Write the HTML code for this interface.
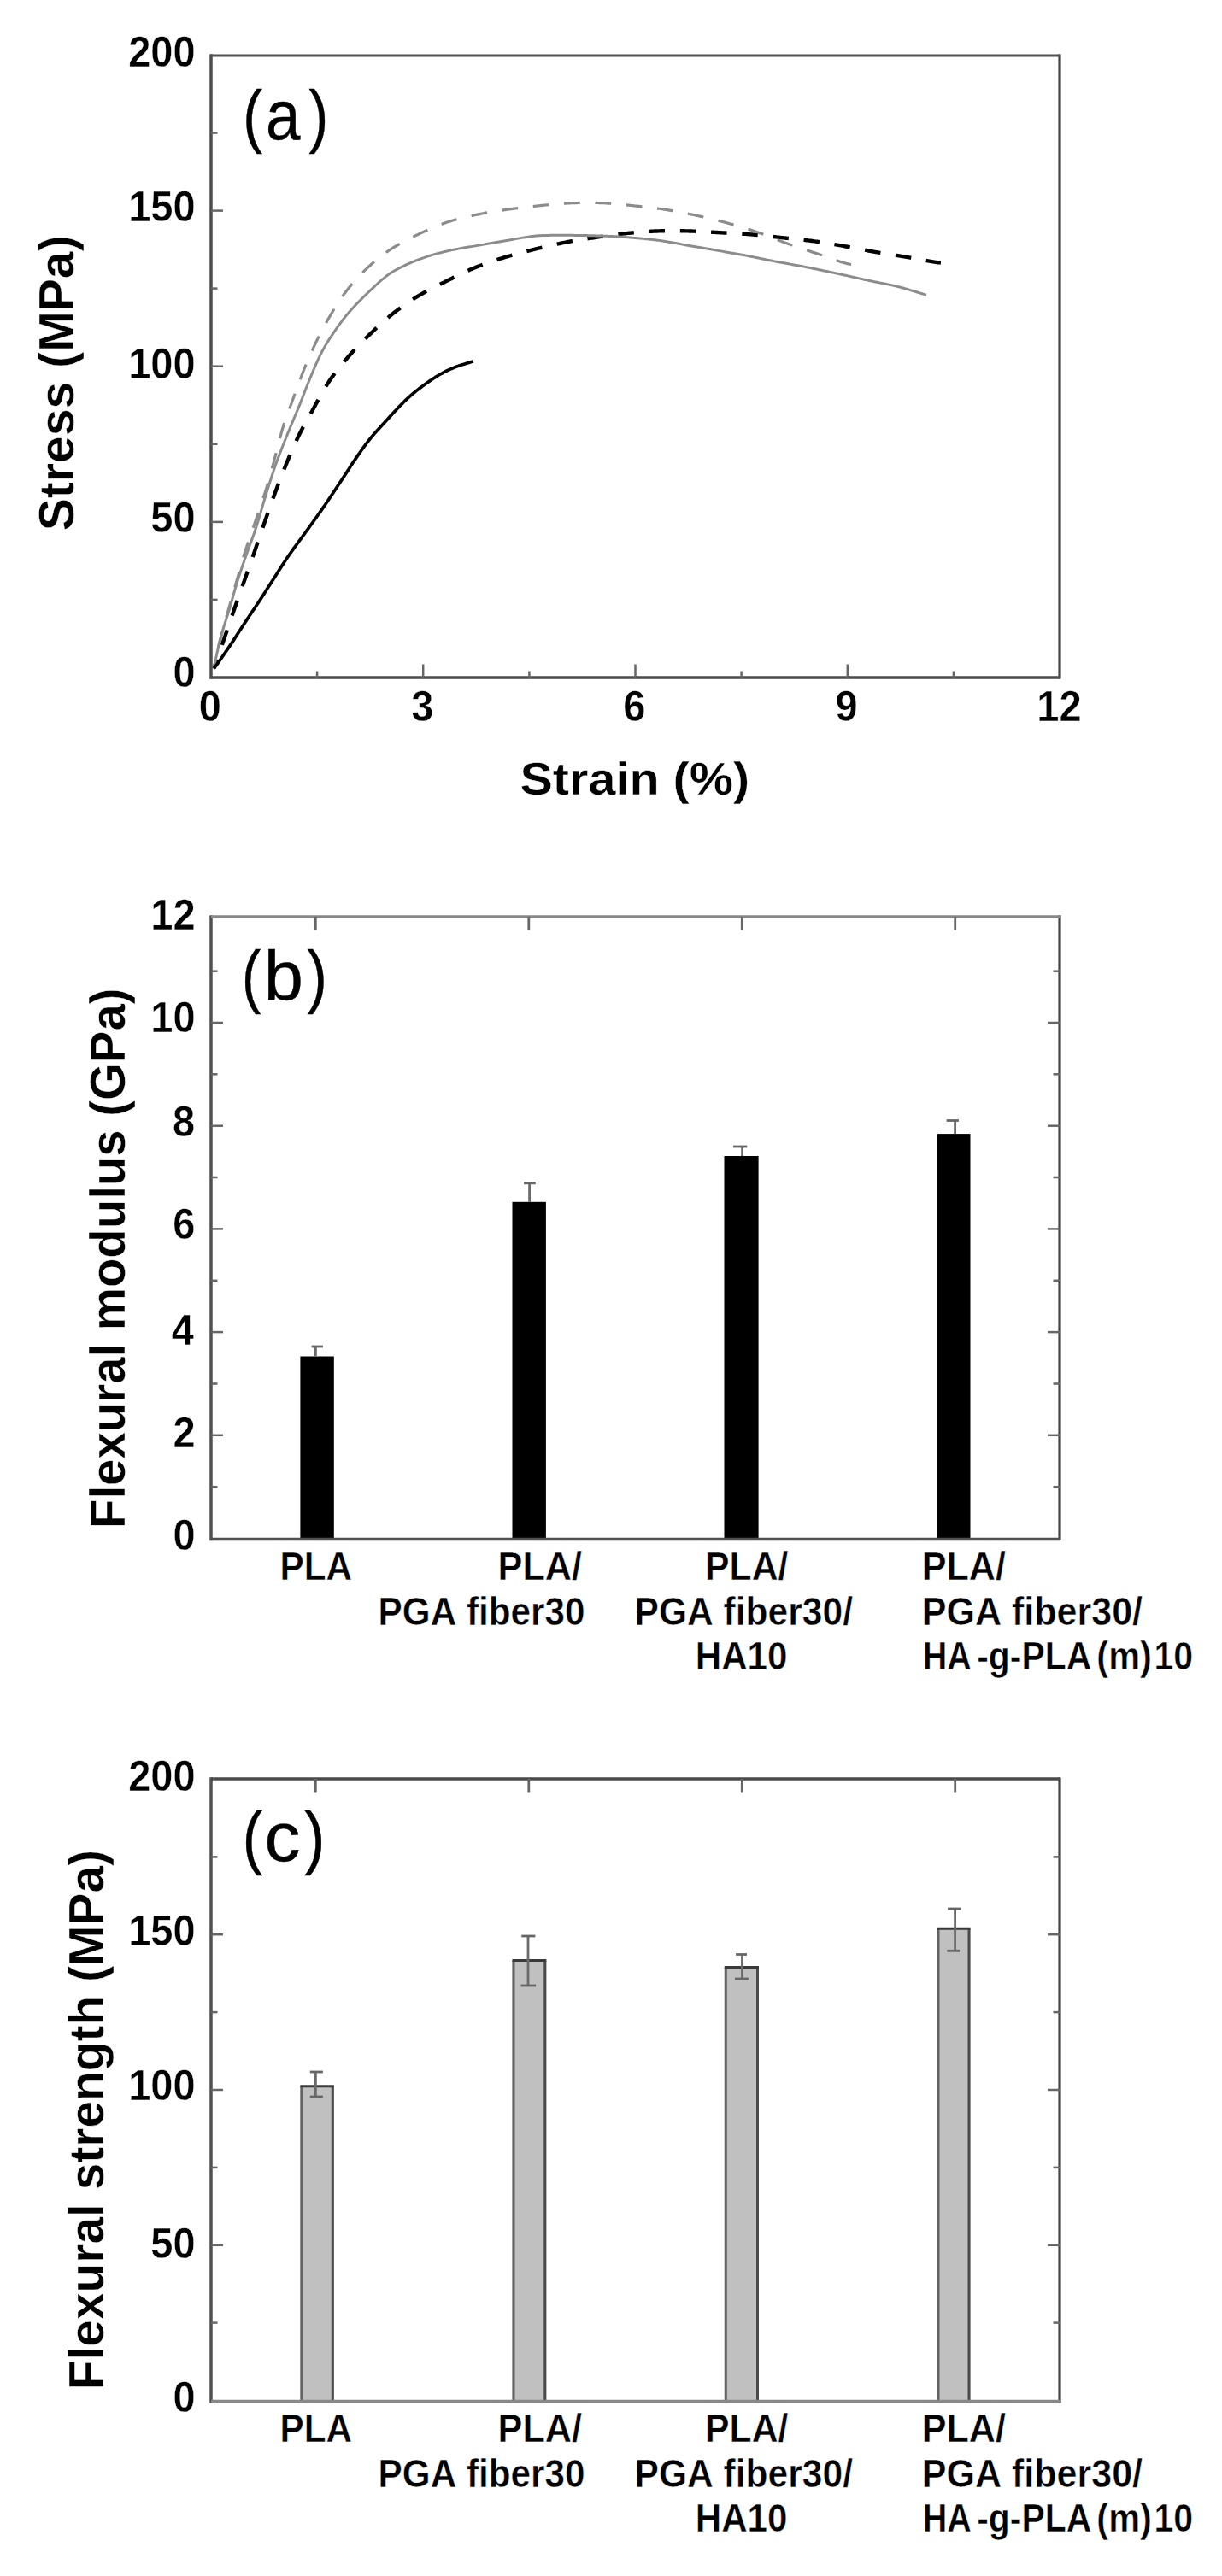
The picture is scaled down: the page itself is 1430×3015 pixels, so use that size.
<!DOCTYPE html>
<html><head><meta charset="utf-8"><title>Mechanical properties figure</title>
<style>
html,body{margin:0;padding:0;background:#fff;}
body{width:1430px;height:3015px;overflow:hidden;}
svg{display:block;}
svg text{font-family:"Liberation Sans",sans-serif;fill:#000;font-kerning:none;}
.e1{stroke:#fff;stroke-width:0.4px;}
.e2{stroke:#fff;stroke-width:0.5px;}
.e3{stroke:#000;stroke-width:0.45px;}
</style></head><body>
<svg width="1430" height="3015" viewBox="0 0 1430 3015">
<rect x="0" y="0" width="1430" height="3015" fill="#fff"/>
<path d="M250.30,782.40 L250.79,780.98 L251.28,779.56 L251.77,778.15 L252.26,776.73 L252.75,775.31 L253.24,773.89 L253.73,772.48 L254.22,771.06 L254.71,769.64 L255.20,768.22 L255.69,766.80 L256.18,765.39 L256.67,763.97 L257.16,762.55 L257.65,761.13 L258.14,759.71 L258.62,758.30 L259.11,756.88 L259.60,755.46 L260.09,754.04 L260.58,752.62 L261.07,751.20 L261.56,749.79 L262.04,748.37 L262.53,746.95 L263.02,745.53 L263.50,744.11 L263.99,742.69 L264.48,741.27 L264.96,739.85 L265.45,738.43 L265.93,737.01 L266.42,735.59 L266.90,734.18 L267.39,732.76 L267.87,731.34 L268.36,729.92 L268.84,728.50 L269.33,727.08 L269.81,725.66 L270.30,724.24 L270.79,722.82 L271.27,721.40 L271.76,719.98 L272.25,718.57 L272.74,717.15 L273.23,715.73 L273.72,714.31 L274.21,712.90 L274.71,711.48 L275.20,710.06 L275.70,708.65 L276.19,707.23 L276.69,705.82 L277.19,704.40 L277.69,702.99 L278.19,701.57 L278.69,700.16 L279.19,698.74 L279.69,697.33 L280.19,695.92 L280.69,694.50 L281.19,693.09 L281.69,691.67 L282.19,690.26 L282.69,688.85 L283.19,687.43 L283.69,686.02 L284.19,684.60 L284.69,683.19 L285.19,681.77 L285.69,680.36 L286.19,678.94 L286.68,677.53 L287.18,676.11 L287.68,674.70 L288.18,673.28 L288.67,671.87 L289.17,670.45 L289.66,669.04 L290.16,667.62 L290.66,666.20 L291.15,664.79 L291.65,663.37 L292.14,661.96 L292.64,660.54 L293.13,659.12 L293.63,657.71 L294.12,656.29 L294.61,654.87 L295.11,653.46 L295.60,652.04 L296.09,650.62 L296.58,649.21 L297.07,647.79 L297.56,646.37 L298.05,644.95 L298.54,643.54 L299.03,642.12 L299.52,640.70 L300.01,639.28 L300.50,637.86 L300.99,636.45 L301.47,635.03 L301.96,633.61 L302.45,632.19 L302.94,630.77 L303.43,629.35 L303.92,627.94 L304.40,626.52 L304.89,625.10 L305.38,623.68 L305.87,622.26 L306.36,620.85 L306.85,619.43 L307.34,618.01 L307.84,616.59 L308.33,615.18 L308.82,613.76 L309.31,612.34 L309.80,610.92 L310.30,609.51 L310.79,608.09 L311.28,606.67 L311.77,605.26 L312.27,603.84 L312.76,602.42 L313.25,601.01 L313.74,599.59 L314.24,598.17 L314.73,596.76 L315.23,595.34 L315.72,593.93 L316.22,592.51 L316.72,591.10 L317.22,589.68 L317.72,588.27 L318.23,586.86 L318.74,585.44 L319.25,584.03 L319.76,582.62 L320.27,581.21 L320.79,579.81 L321.31,578.40 L321.83,576.99 L322.35,575.59 L322.87,574.18 L323.40,572.77 L323.93,571.37 L324.45,569.97 L324.98,568.56 L325.51,567.16 L326.04,565.76 L326.58,564.35 L327.11,562.95 L327.65,561.55 L328.19,560.15 L328.73,558.75 L329.27,557.35 L329.82,555.96 L330.36,554.56 L330.91,553.16 L331.47,551.77 L332.02,550.38 L332.58,548.98 L333.14,547.59 L333.70,546.20 L334.27,544.81 L334.84,543.42 L335.41,542.04 L335.98,540.65 L336.56,539.27 L337.13,537.88 L337.71,536.50 L338.29,535.11 L338.88,533.73 L339.46,532.35 L340.05,530.97 L340.64,529.59 L341.24,528.22 L341.83,526.84 L342.43,525.47 L343.04,524.09 L343.64,522.72 L344.25,521.35 L344.87,519.98 L345.49,518.62 L346.11,517.25 L346.74,515.89 L347.37,514.53 L348.01,513.17 L348.66,511.82 L349.31,510.47 L349.97,509.12 L350.63,507.78 L351.31,506.44 L351.99,505.10 L352.68,503.77 L353.38,502.44 L354.08,501.12 L354.79,499.80 L355.51,498.48 L356.24,497.17 L356.96,495.85 L357.70,494.55 L358.43,493.24 L359.17,491.93 L359.91,490.63 L360.65,489.32 L361.39,488.02 L362.12,486.71 L362.86,485.40 L363.59,484.09 L364.32,482.78 L365.05,481.47 L365.78,480.16 L366.50,478.84 L367.22,477.53 L367.93,476.21 L368.65,474.89 L369.36,473.57 L370.07,472.25 L370.79,470.93 L371.50,469.61 L372.22,468.29 L372.93,466.98 L373.65,465.66 L374.38,464.35 L375.10,463.03 L375.83,461.72 L376.57,460.42 L377.31,459.11 L378.06,457.81 L378.81,456.51 L379.57,455.22 L380.34,453.93 L381.12,452.65 L381.91,451.38 L382.70,450.11 L383.51,448.84 L384.33,447.58 L385.16,446.33 L386.00,445.09 L386.84,443.85 L387.70,442.62 L388.57,441.40 L389.44,440.18 L390.32,438.96 L391.21,437.76 L392.11,436.55 L393.01,435.36 L393.92,434.17 L394.84,432.98 L395.77,431.80 L396.70,430.62 L397.63,429.45 L398.57,428.29 L399.52,427.12 L400.47,425.96 L401.43,424.81 L402.39,423.66 L403.36,422.51 L404.32,421.36 L405.30,420.22 L406.27,419.08 L407.25,417.94 L408.24,416.81 L409.23,415.68 L410.22,414.56 L411.22,413.44 L412.22,412.33 L413.23,411.22 L414.25,410.11 L415.27,409.01 L416.29,407.92 L417.32,406.83 L418.35,405.74 L419.39,404.66 L420.43,403.58 L421.48,402.50 L422.53,401.43 L423.58,400.36 L424.63,399.29 L425.69,398.23 L426.76,397.18 L427.82,396.12 L428.89,395.07 L429.96,394.02 L431.04,392.97 L432.11,391.93 L433.19,390.88 L434.27,389.84 L435.36,388.81 L436.44,387.77 L437.53,386.74 L438.62,385.71 L439.71,384.68 L440.81,383.65 L441.91,382.63 L443.01,381.61 L444.11,380.60 L445.22,379.59 L446.33,378.58 L447.45,377.58 L448.57,376.58 L449.69,375.58 L450.82,374.60 L451.95,373.61 L453.09,372.63 L454.23,371.66 L455.37,370.69 L456.53,369.73 L457.68,368.78 L458.85,367.83 L460.01,366.89 L461.19,365.96 L462.37,365.03 L463.55,364.11 L464.74,363.20 L465.94,362.29 L467.14,361.39 L468.34,360.49 L469.55,359.61 L470.76,358.73 L471.98,357.85 L473.21,356.99 L474.44,356.13 L475.67,355.27 L476.91,354.43 L478.15,353.59 L479.40,352.76 L480.65,351.93 L481.91,351.11 L483.17,350.30 L484.43,349.49 L485.70,348.69 L486.98,347.90 L488.25,347.12 L489.54,346.34 L490.82,345.57 L492.11,344.80 L493.41,344.05 L494.71,343.31 L496.02,342.57 L497.33,341.84 L498.64,341.12 L499.96,340.40 L501.29,339.70 L502.61,338.99 L503.94,338.30 L505.27,337.61 L506.60,336.92 L507.94,336.24 L509.28,335.56 L510.62,334.88 L511.96,334.21 L513.30,333.53 L514.64,332.86 L515.98,332.19 L517.32,331.53 L518.67,330.86 L520.01,330.19 L521.35,329.52 L522.69,328.85 L524.04,328.18 L525.38,327.51 L526.72,326.84 L528.06,326.17 L529.40,325.50 L530.75,324.83 L532.09,324.16 L533.43,323.50 L534.78,322.83 L536.13,322.17 L537.48,321.52 L538.83,320.86 L540.18,320.21 L541.53,319.57 L542.89,318.93 L544.25,318.30 L545.61,317.67 L546.98,317.05 L548.35,316.43 L549.72,315.83 L551.09,315.23 L552.47,314.64 L553.85,314.05 L555.24,313.48 L556.63,312.91 L558.02,312.35 L559.41,311.80 L560.81,311.26 L562.21,310.72 L563.62,310.20 L565.02,309.67 L566.43,309.16 L567.84,308.65 L569.26,308.15 L570.67,307.65 L572.09,307.16 L573.51,306.68 L574.93,306.20 L576.35,305.72 L577.78,305.25 L579.20,304.79 L580.63,304.32 L582.06,303.87 L583.49,303.41 L584.92,302.96 L586.35,302.51 L587.78,302.07 L589.22,301.63 L590.65,301.19 L592.09,300.76 L593.53,300.33 L594.97,299.91 L596.41,299.49 L597.85,299.07 L599.29,298.66 L600.73,298.26 L602.18,297.86 L603.63,297.46 L605.07,297.06 L606.52,296.67 L607.97,296.28 L609.42,295.90 L610.87,295.51 L612.32,295.13 L613.77,294.76 L615.22,294.38 L616.68,294.01 L618.13,293.64 L619.58,293.27 L621.04,292.90 L622.49,292.53 L623.95,292.17 L625.40,291.81 L626.86,291.45 L628.32,291.09 L629.77,290.73 L631.23,290.38 L632.69,290.02 L634.15,289.67 L635.61,289.32 L637.07,288.98 L638.53,288.64 L639.99,288.30 L641.45,287.96 L642.91,287.62 L644.37,287.29 L645.84,286.96 L647.30,286.63 L648.77,286.31 L650.23,285.99 L651.70,285.67 L653.17,285.36 L654.63,285.05 L656.10,284.75 L657.57,284.44 L659.04,284.15 L660.51,283.85 L661.98,283.57 L663.46,283.28 L664.93,283.00 L666.41,282.73 L667.88,282.46 L669.36,282.20 L670.84,281.94 L672.31,281.69 L673.79,281.44 L675.27,281.19 L676.75,280.95 L678.24,280.71 L679.72,280.48 L681.20,280.25 L682.68,280.02 L684.16,279.79 L685.65,279.56 L687.13,279.34 L688.61,279.12 L690.10,278.89 L691.58,278.67 L693.06,278.45 L694.55,278.23 L696.03,278.01 L697.52,277.79 L699.00,277.57 L700.48,277.35 L701.97,277.13 L703.45,276.91 L704.94,276.69 L706.42,276.48 L707.90,276.27 L709.39,276.05 L710.88,275.84 L712.36,275.64 L713.85,275.43 L715.33,275.23 L716.82,275.03 L718.31,274.83 L719.79,274.64 L721.28,274.45 L722.77,274.26 L724.26,274.08 L725.75,273.90 L727.24,273.72 L728.73,273.55 L730.22,273.39 L731.71,273.22 L733.20,273.07 L734.69,272.91 L736.19,272.76 L737.68,272.62 L739.17,272.48 L740.67,272.34 L742.16,272.20 L743.65,272.07 L745.15,271.94 L746.64,271.82 L748.14,271.70 L749.63,271.58 L751.13,271.46 L752.63,271.35 L754.12,271.25 L755.62,271.15 L757.12,271.05 L758.61,270.96 L760.11,270.87 L761.61,270.78 L763.11,270.70 L764.60,270.63 L766.10,270.56 L767.60,270.49 L769.10,270.43 L770.60,270.38 L772.10,270.33 L773.60,270.29 L775.10,270.25 L776.60,270.22 L778.10,270.19 L779.60,270.17 L781.10,270.15 L782.60,270.14 L784.10,270.13 L785.60,270.12 L787.10,270.13 L788.60,270.13 L790.10,270.14 L791.60,270.15 L793.10,270.17 L794.60,270.19 L796.10,270.21 L797.60,270.24 L799.10,270.26 L800.60,270.29 L802.09,270.33 L803.59,270.36 L805.09,270.40 L806.59,270.44 L808.09,270.49 L809.59,270.53 L811.09,270.59 L812.59,270.64 L814.09,270.70 L815.59,270.77 L817.09,270.83 L818.58,270.90 L820.08,270.98 L821.58,271.05 L823.08,271.13 L824.58,271.21 L826.08,271.29 L827.57,271.37 L829.07,271.45 L830.57,271.54 L832.07,271.62 L833.56,271.71 L835.06,271.79 L836.56,271.88 L838.06,271.96 L839.55,272.05 L841.05,272.13 L842.55,272.21 L844.05,272.29 L845.55,272.37 L847.04,272.45 L848.54,272.53 L850.04,272.61 L851.54,272.69 L853.04,272.77 L854.53,272.85 L856.03,272.93 L857.53,273.01 L859.03,273.09 L860.52,273.18 L862.02,273.26 L863.52,273.35 L865.02,273.43 L866.51,273.52 L868.01,273.61 L869.51,273.71 L871.01,273.80 L872.50,273.90 L874.00,274.01 L875.50,274.11 L876.99,274.22 L878.49,274.33 L879.98,274.45 L881.48,274.57 L882.97,274.70 L884.47,274.83 L885.96,274.97 L887.45,275.11 L888.95,275.26 L890.44,275.41 L891.93,275.57 L893.42,275.73 L894.91,275.89 L896.40,276.05 L897.90,276.22 L899.39,276.39 L900.88,276.56 L902.37,276.73 L903.86,276.91 L905.35,277.08 L906.84,277.25 L908.33,277.42 L909.82,277.59 L911.31,277.75 L912.80,277.92 L914.29,278.08 L915.78,278.24 L917.27,278.39 L918.77,278.55 L920.26,278.70 L921.75,278.86 L923.24,279.01 L924.74,279.16 L926.23,279.31 L927.72,279.46 L929.21,279.62 L930.70,279.77 L932.20,279.92 L933.69,280.08 L935.18,280.24 L936.67,280.40 L938.16,280.56 L939.65,280.72 L941.14,280.89 L942.63,281.06 L944.12,281.24 L945.61,281.42 L947.10,281.60 L948.59,281.79 L950.08,281.98 L951.57,282.18 L953.05,282.38 L954.54,282.59 L956.02,282.80 L957.51,283.02 L958.99,283.24 L960.47,283.47 L961.96,283.70 L963.44,283.93 L964.92,284.16 L966.40,284.40 L967.88,284.64 L969.36,284.89 L970.84,285.13 L972.32,285.38 L973.80,285.63 L975.28,285.89 L976.76,286.14 L978.23,286.40 L979.71,286.65 L981.19,286.91 L982.67,287.17 L984.14,287.43 L985.62,287.69 L987.10,287.95 L988.57,288.21 L990.05,288.48 L991.53,288.75 L993.00,289.02 L994.48,289.30 L995.95,289.58 L997.42,289.86 L998.90,290.14 L1000.37,290.42 L1001.84,290.70 L1003.32,290.99 L1004.79,291.27 L1006.26,291.56 L1007.74,291.84 L1009.21,292.12 L1010.68,292.40 L1012.16,292.68 L1013.63,292.96 L1015.11,293.23 L1016.58,293.50 L1018.06,293.77 L1019.53,294.04 L1021.01,294.30 L1022.49,294.56 L1023.97,294.81 L1025.44,295.06 L1026.92,295.31 L1028.40,295.55 L1029.88,295.80 L1031.37,296.04 L1032.85,296.27 L1034.33,296.51 L1035.81,296.75 L1037.29,296.98 L1038.77,297.21 L1040.25,297.44 L1041.74,297.68 L1043.22,297.91 L1044.70,298.15 L1046.18,298.38 L1047.66,298.62 L1049.14,298.86 L1050.62,299.10 L1052.10,299.34 L1053.58,299.58 L1055.06,299.83 L1056.54,300.08 L1058.02,300.34 L1059.50,300.60 L1060.98,300.85 L1062.45,301.12 L1063.93,301.38 L1065.41,301.64 L1066.88,301.91 L1068.36,302.18 L1069.83,302.45 L1071.31,302.72 L1072.79,302.99 L1074.26,303.26 L1075.74,303.53 L1077.21,303.80 L1078.69,304.07 L1080.16,304.34 L1081.64,304.62 L1083.11,304.89 L1084.59,305.15 L1086.07,305.42 L1087.54,305.68 L1089.02,305.94 L1090.50,306.19 L1091.98,306.44 L1093.46,306.66 L1094.94,306.87 L1096.43,307.06 L1097.92,307.22 L1099.41,307.37 L1100.90,307.50" fill="none" stroke="#000" stroke-width="4.4" stroke-dasharray="18.5 17.8" stroke-dashoffset="7.17"/>
<path d="M250.30,782.40 L250.58,780.93 L250.87,779.45 L251.15,777.98 L251.43,776.50 L251.72,775.03 L252.00,773.55 L252.29,772.08 L252.58,770.61 L252.87,769.13 L253.17,767.66 L253.47,766.19 L253.77,764.72 L254.09,763.25 L254.40,761.79 L254.73,760.32 L255.07,758.86 L255.41,757.40 L255.76,755.94 L256.12,754.48 L256.48,753.02 L256.85,751.57 L257.23,750.11 L257.61,748.66 L257.99,747.21 L258.38,745.76 L258.77,744.31 L259.16,742.86 L259.55,741.41 L259.95,739.96 L260.34,738.51 L260.74,737.06 L261.13,735.62 L261.53,734.17 L261.93,732.72 L262.33,731.27 L262.73,729.83 L263.14,728.38 L263.54,726.94 L263.95,725.49 L264.36,724.05 L264.77,722.60 L265.18,721.16 L265.59,719.71 L266.00,718.27 L266.41,716.83 L266.82,715.38 L267.23,713.94 L267.64,712.49 L268.06,711.05 L268.47,709.61 L268.88,708.16 L269.29,706.72 L269.70,705.27 L270.11,703.83 L270.53,702.39 L270.94,700.94 L271.35,699.50 L271.77,698.06 L272.18,696.61 L272.59,695.17 L273.01,693.73 L273.42,692.28 L273.83,690.84 L274.24,689.40 L274.66,687.95 L275.07,686.51 L275.48,685.07 L275.90,683.62 L276.31,682.18 L276.72,680.73 L277.14,679.29 L277.55,677.85 L277.96,676.40 L278.37,674.96 L278.78,673.51 L279.19,672.07 L279.59,670.62 L279.99,669.18 L280.39,667.73 L280.78,666.28 L281.17,664.83 L281.56,663.38 L281.96,661.93 L282.35,660.48 L282.75,659.04 L283.15,657.59 L283.56,656.15 L283.98,654.70 L284.40,653.26 L284.84,651.83 L285.28,650.39 L285.72,648.96 L286.17,647.53 L286.63,646.10 L287.10,644.67 L287.56,643.24 L288.03,641.81 L288.51,640.39 L288.99,638.97 L289.46,637.54 L289.95,636.12 L290.43,634.70 L290.91,633.28 L291.40,631.86 L291.88,630.44 L292.37,629.02 L292.86,627.60 L293.35,626.18 L293.83,624.76 L294.32,623.34 L294.81,621.92 L295.30,620.50 L295.79,619.08 L296.27,617.66 L296.76,616.24 L297.25,614.82 L297.73,613.40 L298.22,611.97 L298.70,610.55 L299.18,609.13 L299.66,607.71 L300.15,606.29 L300.63,604.87 L301.11,603.44 L301.59,602.02 L302.08,600.60 L302.56,599.18 L303.05,597.76 L303.53,596.34 L304.02,594.92 L304.50,593.50 L304.99,592.08 L305.47,590.65 L305.95,589.23 L306.43,587.81 L306.91,586.39 L307.38,584.96 L307.86,583.54 L308.32,582.11 L308.79,580.68 L309.25,579.26 L309.71,577.83 L310.17,576.39 L310.62,574.96 L311.06,573.53 L311.51,572.09 L311.94,570.66 L312.38,569.22 L312.81,567.78 L313.23,566.34 L313.65,564.90 L314.07,563.46 L314.48,562.02 L314.90,560.57 L315.30,559.13 L315.71,557.68 L316.11,556.24 L316.51,554.79 L316.91,553.34 L317.31,551.89 L317.71,550.44 L318.10,549.00 L318.50,547.55 L318.89,546.10 L319.28,544.65 L319.67,543.20 L320.07,541.75 L320.46,540.30 L320.85,538.85 L321.24,537.40 L321.63,535.95 L322.01,534.50 L322.39,533.05 L322.77,531.60 L323.15,530.14 L323.52,528.69 L323.90,527.23 L324.27,525.78 L324.64,524.32 L325.00,522.87 L325.37,521.41 L325.74,519.96 L326.11,518.50 L326.48,517.05 L326.85,515.59 L327.23,514.14 L327.61,512.69 L327.99,511.23 L328.37,509.78 L328.76,508.33 L329.16,506.88 L329.56,505.44 L329.96,503.99 L330.38,502.55 L330.80,501.11 L331.23,499.67 L331.67,498.24 L332.12,496.80 L332.58,495.37 L333.05,493.95 L333.53,492.52 L334.01,491.10 L334.50,489.69 L335.00,488.27 L335.51,486.86 L336.03,485.45 L336.54,484.04 L337.07,482.63 L337.59,481.22 L338.12,479.82 L338.65,478.41 L339.18,477.01 L339.72,475.61 L340.24,474.20 L340.77,472.79 L341.29,471.39 L341.82,469.98 L342.33,468.57 L342.85,467.16 L343.36,465.75 L343.88,464.34 L344.39,462.93 L344.90,461.51 L345.40,460.10 L345.91,458.69 L346.42,457.28 L346.93,455.86 L347.44,454.45 L347.95,453.04 L348.46,451.63 L348.98,450.22 L349.49,448.81 L350.01,447.40 L350.53,445.99 L351.06,444.58 L351.58,443.18 L352.11,441.77 L352.65,440.37 L353.19,438.97 L353.73,437.57 L354.28,436.17 L354.83,434.77 L355.39,433.38 L355.95,431.99 L356.51,430.60 L357.08,429.21 L357.65,427.82 L358.23,426.43 L358.81,425.05 L359.39,423.66 L359.98,422.28 L360.57,420.90 L361.16,419.52 L361.76,418.14 L362.36,416.77 L362.96,415.40 L363.57,414.02 L364.19,412.65 L364.80,411.28 L365.43,409.92 L366.05,408.55 L366.69,407.19 L367.32,405.83 L367.96,404.47 L368.61,403.12 L369.26,401.76 L369.91,400.41 L370.57,399.06 L371.23,397.72 L371.90,396.37 L372.57,395.03 L373.24,393.69 L373.92,392.35 L374.60,391.01 L375.29,389.67 L375.98,388.34 L376.67,387.01 L377.37,385.68 L378.07,384.35 L378.78,383.03 L379.49,381.71 L380.21,380.39 L380.93,379.07 L381.66,377.76 L382.39,376.45 L383.13,375.14 L383.87,373.84 L384.62,372.53 L385.37,371.23 L386.13,369.94 L386.89,368.64 L387.65,367.35 L388.42,366.06 L389.19,364.77 L389.97,363.49 L390.75,362.21 L391.53,360.93 L392.32,359.65 L393.12,358.37 L393.92,357.10 L394.72,355.84 L395.54,354.58 L396.36,353.32 L397.18,352.06 L398.02,350.82 L398.86,349.57 L399.71,348.34 L400.57,347.11 L401.44,345.89 L402.32,344.67 L403.21,343.46 L404.11,342.26 L405.02,341.06 L405.93,339.87 L406.86,338.69 L407.79,337.52 L408.74,336.35 L409.68,335.18 L410.64,334.03 L411.60,332.88 L412.58,331.73 L413.55,330.59 L414.54,329.46 L415.53,328.33 L416.53,327.21 L417.54,326.10 L418.55,325.00 L419.58,323.90 L420.61,322.80 L421.64,321.72 L422.69,320.64 L423.74,319.57 L424.80,318.51 L425.87,317.45 L426.94,316.41 L428.03,315.37 L429.12,314.33 L430.21,313.31 L431.31,312.29 L432.42,311.27 L433.54,310.27 L434.66,309.27 L435.78,308.28 L436.92,307.29 L438.05,306.31 L439.20,305.34 L440.35,304.38 L441.51,303.42 L442.67,302.47 L443.84,301.53 L445.02,300.60 L446.20,299.68 L447.39,298.77 L448.59,297.86 L449.80,296.97 L451.01,296.08 L452.23,295.20 L453.45,294.34 L454.69,293.48 L455.93,292.64 L457.18,291.81 L458.43,290.98 L459.70,290.17 L460.97,289.37 L462.24,288.59 L463.53,287.81 L464.82,287.05 L466.12,286.29 L467.42,285.55 L468.73,284.82 L470.05,284.09 L471.37,283.37 L472.69,282.66 L474.02,281.96 L475.35,281.27 L476.68,280.58 L478.02,279.90 L479.36,279.22 L480.70,278.55 L482.05,277.88 L483.39,277.22 L484.74,276.56 L486.09,275.90 L487.45,275.25 L488.80,274.60 L490.15,273.95 L491.51,273.31 L492.87,272.67 L494.23,272.03 L495.59,271.39 L496.95,270.76 L498.31,270.13 L499.68,269.51 L501.04,268.89 L502.41,268.28 L503.79,267.67 L505.16,267.07 L506.54,266.47 L507.92,265.88 L509.31,265.31 L510.70,264.73 L512.09,264.17 L513.48,263.62 L514.88,263.07 L516.28,262.54 L517.69,262.01 L519.10,261.50 L520.52,261.00 L521.93,260.50 L523.36,260.02 L524.78,259.55 L526.21,259.10 L527.64,258.65 L529.08,258.22 L530.52,257.79 L531.96,257.38 L533.41,256.98 L534.86,256.58 L536.31,256.20 L537.76,255.82 L539.22,255.46 L540.68,255.09 L542.14,254.74 L543.60,254.39 L545.06,254.05 L546.52,253.72 L547.99,253.39 L549.45,253.06 L550.92,252.74 L552.38,252.42 L553.85,252.10 L555.32,251.79 L556.79,251.48 L558.26,251.18 L559.73,250.88 L561.20,250.58 L562.67,250.28 L564.15,249.99 L565.62,249.70 L567.10,249.42 L568.57,249.14 L570.05,248.87 L571.53,248.61 L573.01,248.35 L574.49,248.10 L575.97,247.86 L577.45,247.62 L578.93,247.38 L580.41,247.15 L581.90,246.92 L583.38,246.70 L584.87,246.48 L586.35,246.26 L587.84,246.05 L589.33,245.84 L590.81,245.63 L592.30,245.42 L593.79,245.21 L595.27,245.01 L596.76,244.80 L598.25,244.60 L599.74,244.40 L601.23,244.21 L602.71,244.01 L604.20,243.82 L605.69,243.63 L607.18,243.44 L608.67,243.26 L610.16,243.08 L611.65,242.90 L613.14,242.72 L614.64,242.54 L616.13,242.37 L617.62,242.20 L619.11,242.03 L620.60,241.86 L622.10,241.70 L623.59,241.54 L625.08,241.38 L626.57,241.22 L628.07,241.06 L629.56,240.91 L631.05,240.76 L632.55,240.61 L634.04,240.46 L635.54,240.31 L637.03,240.17 L638.53,240.02 L640.02,239.88 L641.51,239.74 L643.01,239.60 L644.50,239.46 L646.00,239.33 L647.50,239.20 L648.99,239.07 L650.49,238.94 L651.98,238.82 L653.48,238.70 L654.98,238.58 L656.47,238.47 L657.97,238.36 L659.47,238.26 L660.97,238.17 L662.47,238.08 L663.97,237.99 L665.46,237.91 L666.96,237.84 L668.46,237.77 L669.96,237.71 L671.46,237.65 L672.96,237.60 L674.47,237.55 L675.97,237.51 L677.47,237.47 L678.97,237.44 L680.47,237.41 L681.97,237.39 L683.47,237.37 L684.97,237.35 L686.47,237.34 L687.98,237.34 L689.48,237.34 L690.98,237.34 L692.48,237.35 L693.98,237.37 L695.48,237.39 L696.98,237.42 L698.48,237.45 L699.98,237.49 L701.49,237.53 L702.99,237.58 L704.49,237.64 L705.99,237.70 L707.49,237.77 L708.98,237.85 L710.48,237.94 L711.98,238.03 L713.48,238.13 L714.98,238.23 L716.47,238.35 L717.97,238.47 L719.47,238.59 L720.96,238.72 L722.46,238.85 L723.95,238.99 L725.45,239.13 L726.94,239.28 L728.44,239.43 L729.93,239.58 L731.42,239.73 L732.92,239.88 L734.41,240.04 L735.90,240.20 L737.40,240.35 L738.89,240.51 L740.38,240.67 L741.88,240.83 L743.37,240.98 L744.86,241.14 L746.36,241.30 L747.85,241.45 L749.34,241.61 L750.84,241.77 L752.33,241.92 L753.82,242.08 L755.31,242.24 L756.81,242.41 L758.30,242.57 L759.79,242.74 L761.28,242.92 L762.77,243.09 L764.26,243.27 L765.75,243.46 L767.24,243.65 L768.73,243.84 L770.22,244.04 L771.71,244.25 L773.19,244.46 L774.68,244.68 L776.16,244.90 L777.65,245.13 L779.13,245.36 L780.61,245.60 L782.09,245.84 L783.57,246.09 L785.05,246.34 L786.53,246.60 L788.01,246.86 L789.49,247.13 L790.97,247.40 L792.44,247.67 L793.92,247.94 L795.39,248.22 L796.87,248.50 L798.34,248.79 L799.82,249.08 L801.29,249.37 L802.76,249.66 L804.23,249.96 L805.70,250.26 L807.18,250.56 L808.65,250.87 L810.12,251.18 L811.58,251.49 L813.05,251.80 L814.52,252.11 L815.99,252.43 L817.45,252.75 L818.92,253.08 L820.39,253.40 L821.85,253.73 L823.32,254.06 L824.78,254.40 L826.24,254.74 L827.70,255.08 L829.17,255.42 L830.63,255.77 L832.09,256.12 L833.55,256.47 L835.00,256.82 L836.46,257.18 L837.92,257.55 L839.38,257.91 L840.83,258.28 L842.29,258.65 L843.74,259.02 L845.19,259.40 L846.65,259.78 L848.10,260.17 L849.55,260.56 L851.00,260.95 L852.45,261.34 L853.89,261.74 L855.34,262.14 L856.79,262.54 L858.23,262.95 L859.68,263.36 L861.12,263.77 L862.56,264.18 L864.00,264.60 L865.44,265.03 L866.88,265.46 L868.32,265.89 L869.76,266.32 L871.19,266.77 L872.63,267.21 L874.06,267.66 L875.49,268.11 L876.92,268.57 L878.35,269.04 L879.77,269.50 L881.20,269.98 L882.62,270.46 L884.04,270.94 L885.46,271.43 L886.88,271.93 L888.29,272.44 L889.70,272.95 L891.11,273.47 L892.52,274.00 L893.92,274.53 L895.32,275.07 L896.72,275.61 L898.12,276.15 L899.52,276.70 L900.92,277.24 L902.32,277.79 L903.71,278.34 L905.11,278.89 L906.51,279.43 L907.91,279.98 L909.31,280.52 L910.71,281.06 L912.11,281.59 L913.52,282.12 L914.93,282.65 L916.33,283.17 L917.74,283.69 L919.15,284.20 L920.57,284.70 L921.98,285.21 L923.40,285.71 L924.82,286.20 L926.23,286.70 L927.65,287.19 L929.07,287.68 L930.49,288.17 L931.91,288.65 L933.33,289.14 L934.75,289.62 L936.18,290.10 L937.60,290.58 L939.02,291.06 L940.44,291.54 L941.87,292.02 L943.29,292.50 L944.71,292.98 L946.13,293.46 L947.56,293.95 L948.98,294.43 L950.40,294.91 L951.82,295.40 L953.24,295.88 L954.66,296.37 L956.08,296.86 L957.50,297.35 L958.92,297.84 L960.34,298.33 L961.76,298.82 L963.17,299.31 L964.59,299.81 L966.01,300.30 L967.43,300.79 L968.85,301.29 L970.27,301.78 L971.68,302.27 L973.10,302.76 L974.52,303.25 L975.94,303.74 L977.36,304.23 L978.78,304.71 L980.20,305.20 L981.63,305.68 L983.05,306.15 L984.48,306.61 L985.91,307.06 L987.35,307.50 L988.79,307.91 L990.24,308.29 L991.69,308.63 L993.16,308.94 L994.63,309.23 L996.10,309.50" fill="none" stroke="#8c8c8c" stroke-width="3.2" stroke-dasharray="18.8 17.65" stroke-dashoffset="11.25"/>
<path d="M250.30,782.40 L250.59,780.93 L250.88,779.45 L251.18,777.98 L251.47,776.51 L251.76,775.04 L252.06,773.56 L252.35,772.09 L252.65,770.62 L252.95,769.15 L253.25,767.68 L253.56,766.21 L253.87,764.74 L254.19,763.28 L254.52,761.81 L254.85,760.35 L255.18,758.88 L255.53,757.42 L255.88,755.96 L256.23,754.50 L256.60,753.05 L256.96,751.59 L257.33,750.14 L257.71,748.68 L258.09,747.23 L258.47,745.78 L258.86,744.33 L259.25,742.88 L259.65,741.43 L260.05,739.98 L260.45,738.54 L260.86,737.09 L261.28,735.65 L261.70,734.21 L262.13,732.77 L262.56,731.34 L263.01,729.90 L263.46,728.47 L263.92,727.04 L264.39,725.61 L264.86,724.19 L265.33,722.76 L265.80,721.34 L266.27,719.91 L266.73,718.48 L267.19,717.05 L267.64,715.62 L268.08,714.19 L268.52,712.75 L268.94,711.31 L269.36,709.87 L269.78,708.43 L270.18,706.98 L270.58,705.53 L270.98,704.09 L271.38,702.64 L271.78,701.19 L272.18,699.74 L272.58,698.30 L272.98,696.85 L273.39,695.41 L273.80,693.96 L274.21,692.52 L274.63,691.08 L275.05,689.64 L275.47,688.19 L275.89,686.75 L276.32,685.32 L276.75,683.88 L277.19,682.44 L277.63,681.01 L278.07,679.57 L278.52,678.14 L278.98,676.71 L279.43,675.28 L279.89,673.85 L280.36,672.42 L280.83,670.99 L281.30,669.57 L281.77,668.14 L282.25,666.72 L282.73,665.30 L283.21,663.88 L283.69,662.45 L284.18,661.03 L284.66,659.61 L285.15,658.19 L285.64,656.78 L286.13,655.36 L286.63,653.94 L287.12,652.52 L287.62,651.11 L288.12,649.69 L288.63,648.28 L289.13,646.86 L289.64,645.45 L290.16,644.04 L290.67,642.63 L291.19,641.22 L291.71,639.81 L292.23,638.40 L292.75,637.00 L293.27,635.59 L293.78,634.18 L294.30,632.77 L294.82,631.36 L295.33,629.95 L295.84,628.53 L296.34,627.12 L296.84,625.71 L297.34,624.29 L297.83,622.87 L298.32,621.45 L298.80,620.03 L299.28,618.60 L299.74,617.18 L300.21,615.75 L300.66,614.32 L301.12,612.89 L301.56,611.45 L302.00,610.02 L302.44,608.58 L302.87,607.15 L303.30,605.71 L303.73,604.27 L304.15,602.83 L304.58,601.39 L305.00,599.95 L305.42,598.51 L305.84,597.06 L306.26,595.62 L306.68,594.18 L307.11,592.74 L307.53,591.30 L307.95,589.86 L308.38,588.42 L308.81,586.98 L309.24,585.55 L309.68,584.11 L310.12,582.67 L310.56,581.24 L311.00,579.80 L311.44,578.37 L311.89,576.94 L312.33,575.50 L312.78,574.07 L313.22,572.63 L313.67,571.20 L314.12,569.77 L314.56,568.33 L315.01,566.90 L315.46,565.47 L315.92,564.04 L316.37,562.61 L316.83,561.18 L317.28,559.75 L317.74,558.32 L318.21,556.89 L318.67,555.46 L319.14,554.04 L319.62,552.61 L320.09,551.19 L320.57,549.77 L321.06,548.35 L321.55,546.93 L322.04,545.51 L322.54,544.09 L323.04,542.68 L323.55,541.27 L324.06,539.85 L324.58,538.45 L325.10,537.04 L325.63,535.63 L326.16,534.23 L326.69,532.82 L327.22,531.42 L327.76,530.02 L328.30,528.62 L328.84,527.22 L329.39,525.82 L329.94,524.42 L330.48,523.02 L331.03,521.63 L331.59,520.23 L332.14,518.83 L332.69,517.44 L333.24,516.04 L333.80,514.64 L334.35,513.25 L334.90,511.85 L335.46,510.46 L336.02,509.07 L336.58,507.67 L337.14,506.28 L337.71,504.89 L338.27,503.50 L338.85,502.11 L339.42,500.73 L339.99,499.34 L340.57,497.95 L341.15,496.57 L341.73,495.18 L342.31,493.80 L342.89,492.41 L343.47,491.03 L344.05,489.65 L344.64,488.26 L345.22,486.88 L345.81,485.50 L346.39,484.11 L346.98,482.73 L347.56,481.35 L348.14,479.96 L348.71,478.57 L349.28,477.18 L349.84,475.79 L350.40,474.40 L350.95,473.00 L351.50,471.61 L352.05,470.21 L352.60,468.81 L353.14,467.41 L353.68,466.01 L354.22,464.61 L354.76,463.21 L355.30,461.81 L355.84,460.41 L356.38,459.01 L356.93,457.61 L357.47,456.21 L358.02,454.81 L358.57,453.41 L359.12,452.02 L359.68,450.62 L360.23,449.23 L360.80,447.84 L361.36,446.45 L361.93,445.06 L362.50,443.67 L363.07,442.28 L363.64,440.89 L364.21,439.50 L364.78,438.11 L365.36,436.73 L365.93,435.34 L366.51,433.95 L367.09,432.57 L367.67,431.19 L368.26,429.80 L368.85,428.42 L369.45,427.05 L370.05,425.67 L370.66,424.30 L371.27,422.93 L371.89,421.56 L372.53,420.20 L373.17,418.84 L373.82,417.49 L374.48,416.14 L375.15,414.80 L375.83,413.46 L376.52,412.13 L377.22,410.80 L377.93,409.48 L378.66,408.17 L379.39,406.86 L380.13,405.55 L380.89,404.26 L381.66,402.97 L382.43,401.68 L383.22,400.40 L384.02,399.13 L384.82,397.86 L385.63,396.60 L386.45,395.35 L387.28,394.09 L388.11,392.84 L388.95,391.60 L389.79,390.35 L390.64,389.11 L391.48,387.87 L392.33,386.63 L393.19,385.40 L394.04,384.17 L394.91,382.94 L395.77,381.71 L396.65,380.49 L397.53,379.28 L398.41,378.06 L399.31,376.86 L400.21,375.66 L401.12,374.46 L402.04,373.28 L402.96,372.10 L403.90,370.92 L404.84,369.76 L405.80,368.60 L406.76,367.44 L407.73,366.30 L408.71,365.16 L409.70,364.04 L410.70,362.91 L411.70,361.80 L412.72,360.69 L413.73,359.59 L414.76,358.49 L415.79,357.40 L416.83,356.31 L417.86,355.23 L418.91,354.15 L419.96,353.08 L421.01,352.00 L422.06,350.94 L423.12,349.87 L424.18,348.81 L425.25,347.75 L426.31,346.70 L427.38,345.64 L428.46,344.59 L429.53,343.55 L430.61,342.50 L431.69,341.46 L432.78,340.42 L433.87,339.39 L434.96,338.36 L436.05,337.33 L437.15,336.30 L438.25,335.28 L439.35,334.26 L440.46,333.25 L441.57,332.24 L442.68,331.23 L443.79,330.22 L444.91,329.22 L446.04,328.23 L447.17,327.24 L448.31,326.27 L449.46,325.31 L450.63,324.36 L451.81,323.44 L453.00,322.53 L454.21,321.64 L455.44,320.78 L456.68,319.94 L457.94,319.12 L459.21,318.33 L460.49,317.55 L461.78,316.79 L463.09,316.05 L464.40,315.32 L465.72,314.61 L467.05,313.91 L468.39,313.23 L469.73,312.55 L471.08,311.89 L472.43,311.24 L473.79,310.60 L475.15,309.98 L476.52,309.35 L477.89,308.74 L479.26,308.14 L480.64,307.54 L482.02,306.96 L483.41,306.38 L484.80,305.81 L486.19,305.25 L487.58,304.69 L488.98,304.14 L490.38,303.60 L491.79,303.07 L493.19,302.55 L494.60,302.04 L496.02,301.54 L497.44,301.05 L498.86,300.57 L500.29,300.10 L501.72,299.65 L503.15,299.20 L504.59,298.77 L506.03,298.35 L507.47,297.93 L508.92,297.53 L510.37,297.13 L511.82,296.75 L513.27,296.37 L514.72,296.00 L516.18,295.63 L517.64,295.27 L519.10,294.92 L520.56,294.57 L522.02,294.23 L523.48,293.89 L524.94,293.55 L526.41,293.22 L527.87,292.90 L529.34,292.58 L530.81,292.27 L532.28,291.97 L533.75,291.68 L535.23,291.40 L536.70,291.12 L538.18,290.85 L539.66,290.59 L541.14,290.33 L542.62,290.07 L544.10,289.82 L545.58,289.58 L547.06,289.33 L548.54,289.09 L550.02,288.85 L551.50,288.61 L552.98,288.36 L554.47,288.12 L555.95,287.87 L557.43,287.63 L558.91,287.38 L560.39,287.13 L561.87,286.87 L563.35,286.62 L564.83,286.36 L566.31,286.11 L567.79,285.86 L569.27,285.60 L570.75,285.35 L572.23,285.10 L573.71,284.85 L575.19,284.60 L576.67,284.34 L578.15,284.09 L579.63,283.84 L581.11,283.58 L582.59,283.33 L584.06,283.07 L585.54,282.81 L587.02,282.55 L588.50,282.28 L589.98,282.02 L591.45,281.75 L592.93,281.49 L594.41,281.22 L595.89,280.95 L597.36,280.68 L598.84,280.42 L600.32,280.15 L601.80,279.89 L603.28,279.63 L604.75,279.37 L606.23,279.12 L607.71,278.87 L609.20,278.62 L610.68,278.38 L612.16,278.14 L613.64,277.91 L615.12,277.67 L616.61,277.44 L618.09,277.21 L619.58,276.99 L621.06,276.77 L622.55,276.57 L624.04,276.39 L625.53,276.23 L627.02,276.08 L628.52,275.95 L630.01,275.84 L631.51,275.75 L633.01,275.67 L634.51,275.60 L636.01,275.54 L637.51,275.49 L639.01,275.45 L640.51,275.41 L642.01,275.38 L643.51,275.36 L645.02,275.34 L646.52,275.32 L648.02,275.31 L649.52,275.30 L651.02,275.29 L652.52,275.28 L654.02,275.28 L655.52,275.28 L657.03,275.28 L658.53,275.29 L660.03,275.29 L661.53,275.30 L663.03,275.30 L664.53,275.31 L666.03,275.32 L667.53,275.34 L669.04,275.35 L670.54,275.36 L672.04,275.38 L673.54,275.39 L675.04,275.41 L676.54,275.43 L678.04,275.45 L679.54,275.47 L681.05,275.50 L682.55,275.52 L684.05,275.55 L685.55,275.58 L687.05,275.61 L688.55,275.65 L690.05,275.68 L691.55,275.72 L693.05,275.76 L694.55,275.79 L696.05,275.84 L697.56,275.88 L699.06,275.92 L700.56,275.97 L702.06,276.01 L703.56,276.06 L705.06,276.11 L706.56,276.16 L708.06,276.22 L709.56,276.27 L711.06,276.33 L712.56,276.39 L714.06,276.45 L715.56,276.51 L717.06,276.58 L718.56,276.65 L720.06,276.73 L721.56,276.81 L723.06,276.89 L724.55,276.98 L726.05,277.08 L727.55,277.18 L729.05,277.29 L730.55,277.40 L732.04,277.52 L733.54,277.64 L735.03,277.77 L736.53,277.90 L738.03,278.03 L739.52,278.16 L741.02,278.29 L742.51,278.42 L744.01,278.56 L745.50,278.69 L747.00,278.83 L748.49,278.96 L749.99,279.10 L751.48,279.24 L752.98,279.38 L754.47,279.53 L755.97,279.67 L757.46,279.82 L758.95,279.98 L760.45,280.14 L761.94,280.30 L763.43,280.46 L764.92,280.64 L766.41,280.81 L767.90,281.00 L769.39,281.18 L770.88,281.38 L772.37,281.58 L773.85,281.79 L775.34,282.01 L776.82,282.23 L778.31,282.46 L779.79,282.70 L781.27,282.95 L782.75,283.20 L784.23,283.45 L785.71,283.71 L787.19,283.97 L788.67,284.24 L790.14,284.50 L791.62,284.77 L793.10,285.04 L794.57,285.32 L796.05,285.59 L797.53,285.86 L799.00,286.13 L800.48,286.40 L801.96,286.66 L803.43,286.93 L804.91,287.19 L806.39,287.45 L807.87,287.71 L809.35,287.97 L810.83,288.23 L812.31,288.49 L813.79,288.74 L815.27,289.00 L816.74,289.26 L818.22,289.52 L819.70,289.77 L821.18,290.03 L822.66,290.29 L824.14,290.55 L825.62,290.81 L827.10,291.06 L828.58,291.32 L830.06,291.58 L831.53,291.84 L833.01,292.10 L834.49,292.35 L835.97,292.61 L837.45,292.87 L838.93,293.12 L840.41,293.38 L841.89,293.63 L843.37,293.89 L844.85,294.14 L846.33,294.39 L847.81,294.65 L849.29,294.90 L850.77,295.15 L852.25,295.40 L853.73,295.66 L855.21,295.91 L856.69,296.17 L858.17,296.42 L859.65,296.68 L861.12,296.94 L862.60,297.20 L864.08,297.46 L865.56,297.73 L867.04,298.00 L868.51,298.27 L869.99,298.54 L871.46,298.82 L872.94,299.10 L874.41,299.39 L875.89,299.67 L877.36,299.96 L878.83,300.26 L880.30,300.55 L881.77,300.85 L883.24,301.15 L884.72,301.45 L886.19,301.75 L887.66,302.06 L889.13,302.36 L890.60,302.66 L892.07,302.96 L893.54,303.27 L895.01,303.57 L896.48,303.86 L897.95,304.16 L899.43,304.45 L900.90,304.74 L902.37,305.03 L903.85,305.32 L905.32,305.60 L906.80,305.88 L908.27,306.16 L909.75,306.43 L911.22,306.70 L912.70,306.98 L914.18,307.25 L915.65,307.51 L917.13,307.78 L918.61,308.05 L920.09,308.32 L921.56,308.58 L923.04,308.85 L924.52,309.11 L926.00,309.38 L927.47,309.65 L928.95,309.91 L930.43,310.18 L931.90,310.45 L933.38,310.72 L934.86,310.99 L936.33,311.27 L937.81,311.55 L939.28,311.83 L940.76,312.11 L942.23,312.39 L943.71,312.68 L945.18,312.97 L946.65,313.27 L948.12,313.57 L949.59,313.86 L951.06,314.17 L952.54,314.47 L954.01,314.77 L955.48,315.07 L956.95,315.38 L958.42,315.68 L959.89,315.99 L961.36,316.29 L962.83,316.60 L964.30,316.91 L965.77,317.21 L967.23,317.52 L968.70,317.83 L970.17,318.14 L971.64,318.45 L973.11,318.76 L974.58,319.07 L976.05,319.38 L977.52,319.69 L978.99,320.00 L980.45,320.32 L981.92,320.63 L983.39,320.95 L984.86,321.27 L986.32,321.59 L987.79,321.91 L989.26,322.23 L990.72,322.55 L992.19,322.88 L993.65,323.21 L995.12,323.54 L996.58,323.86 L998.05,324.19 L999.51,324.53 L1000.98,324.86 L1002.44,325.19 L1003.90,325.52 L1005.37,325.85 L1006.83,326.18 L1008.30,326.51 L1009.76,326.84 L1011.23,327.16 L1012.69,327.49 L1014.16,327.81 L1015.63,328.13 L1017.10,328.45 L1018.56,328.76 L1020.03,329.07 L1021.50,329.38 L1022.97,329.68 L1024.44,329.97 L1025.92,330.27 L1027.39,330.56 L1028.86,330.85 L1030.34,331.13 L1031.81,331.42 L1033.28,331.71 L1034.76,332.00 L1036.23,332.29 L1037.70,332.59 L1039.17,332.89 L1040.64,333.19 L1042.11,333.50 L1043.58,333.82 L1045.04,334.14 L1046.51,334.48 L1047.97,334.82 L1049.43,335.17 L1050.88,335.54 L1052.34,335.91 L1053.79,336.29 L1055.24,336.68 L1056.69,337.07 L1058.13,337.48 L1059.58,337.89 L1061.02,338.31 L1062.46,338.73 L1063.90,339.15 L1065.34,339.58 L1066.78,340.01 L1068.22,340.44 L1069.65,340.88 L1071.09,341.32 L1072.52,341.76 L1073.96,342.20 L1075.39,342.65 L1076.83,343.09 L1078.26,343.53 L1079.69,343.98 L1081.13,344.42 L1082.56,344.86 L1084.00,345.30" fill="none" stroke="#8c8c8c" stroke-width="3"/>
<path d="M250.30,782.40 L251.20,781.20 L252.11,780.00 L253.00,778.80 L253.89,777.58 L254.76,776.37 L255.64,775.15 L256.50,773.92 L257.37,772.69 L258.23,771.46 L259.08,770.23 L259.94,769.00 L260.80,767.76 L261.65,766.53 L262.51,765.29 L263.36,764.06 L264.21,762.82 L265.06,761.58 L265.91,760.35 L266.76,759.11 L267.60,757.87 L268.45,756.62 L269.29,755.38 L270.12,754.13 L270.96,752.88 L271.79,751.63 L272.62,750.38 L273.44,749.13 L274.27,747.87 L275.08,746.61 L275.90,745.35 L276.72,744.09 L277.53,742.83 L278.34,741.57 L279.15,740.30 L279.96,739.04 L280.77,737.77 L281.57,736.51 L282.38,735.24 L283.19,733.98 L284.01,732.72 L284.82,731.45 L285.64,730.19 L286.45,728.93 L287.27,727.68 L288.10,726.42 L288.92,725.17 L289.75,723.92 L290.59,722.67 L291.42,721.42 L292.25,720.17 L293.09,718.92 L293.93,717.68 L294.77,716.43 L295.61,715.19 L296.45,713.94 L297.29,712.70 L298.13,711.45 L298.96,710.21 L299.80,708.96 L300.64,707.71 L301.47,706.46 L302.30,705.21 L303.13,703.96 L303.95,702.71 L304.78,701.45 L305.60,700.19 L306.42,698.94 L307.23,697.68 L308.05,696.41 L308.86,695.15 L309.67,693.89 L310.48,692.62 L311.29,691.36 L312.10,690.09 L312.91,688.83 L313.71,687.56 L314.52,686.30 L315.33,685.03 L316.14,683.77 L316.94,682.50 L317.75,681.24 L318.56,679.97 L319.37,678.71 L320.18,677.44 L321.00,676.18 L321.81,674.92 L322.61,673.65 L323.42,672.39 L324.23,671.12 L325.04,669.86 L325.85,668.59 L326.65,667.32 L327.46,666.06 L328.27,664.79 L329.08,663.53 L329.89,662.27 L330.70,661.00 L331.52,659.74 L332.34,658.49 L333.16,657.23 L333.99,655.98 L334.82,654.73 L335.66,653.48 L336.50,652.24 L337.34,651.00 L338.19,649.76 L339.05,648.52 L339.91,647.29 L340.77,646.07 L341.64,644.84 L342.52,643.62 L343.39,642.40 L344.27,641.18 L345.15,639.97 L346.04,638.75 L346.92,637.54 L347.81,636.33 L348.70,635.12 L349.59,633.91 L350.48,632.70 L351.37,631.49 L352.26,630.28 L353.15,629.07 L354.03,627.86 L354.92,626.65 L355.81,625.44 L356.69,624.23 L357.57,623.01 L358.45,621.79 L359.33,620.58 L360.21,619.36 L361.09,618.14 L361.97,616.93 L362.85,615.71 L363.73,614.49 L364.61,613.27 L365.48,612.06 L366.36,610.84 L367.24,609.62 L368.11,608.40 L368.99,607.18 L369.86,605.96 L370.73,604.73 L371.60,603.51 L372.47,602.29 L373.34,601.06 L374.20,599.83 L375.06,598.60 L375.92,597.37 L376.78,596.14 L377.63,594.90 L378.48,593.67 L379.33,592.43 L380.18,591.19 L381.03,589.95 L381.87,588.71 L382.71,587.47 L383.55,586.22 L384.39,584.98 L385.23,583.73 L386.07,582.48 L386.90,581.23 L387.73,579.99 L388.57,578.74 L389.40,577.49 L390.23,576.24 L391.06,574.99 L391.89,573.74 L392.72,572.49 L393.55,571.23 L394.38,569.98 L395.21,568.73 L396.04,567.48 L396.87,566.23 L397.70,564.97 L398.53,563.72 L399.35,562.47 L400.18,561.22 L401.01,559.96 L401.83,558.71 L402.65,557.45 L403.47,556.19 L404.29,554.94 L405.11,553.68 L405.93,552.42 L406.74,551.16 L407.56,549.90 L408.38,548.64 L409.19,547.38 L410.01,546.12 L410.83,544.86 L411.66,543.61 L412.48,542.35 L413.31,541.10 L414.15,539.85 L414.99,538.61 L415.83,537.37 L416.67,536.13 L417.52,534.89 L418.38,533.65 L419.23,532.42 L420.09,531.18 L420.95,529.95 L421.81,528.73 L422.68,527.50 L423.55,526.28 L424.42,525.06 L425.30,523.84 L426.18,522.62 L427.07,521.41 L427.97,520.21 L428.87,519.01 L429.78,517.81 L430.69,516.62 L431.61,515.44 L432.55,514.26 L433.49,513.09 L434.44,511.93 L435.39,510.77 L436.36,509.63 L437.34,508.49 L438.32,507.35 L439.32,506.23 L440.31,505.11 L441.32,503.99 L442.33,502.88 L443.34,501.77 L444.35,500.66 L445.37,499.56 L446.39,498.45 L447.40,497.34 L448.42,496.24 L449.43,495.13 L450.44,494.02 L451.46,492.92 L452.47,491.81 L453.48,490.70 L454.50,489.59 L455.51,488.48 L456.53,487.38 L457.54,486.27 L458.56,485.17 L459.58,484.06 L460.60,482.96 L461.62,481.86 L462.64,480.76 L463.67,479.67 L464.70,478.57 L465.73,477.48 L466.76,476.40 L467.80,475.31 L468.85,474.24 L469.90,473.16 L470.95,472.09 L472.01,471.03 L473.08,469.98 L474.15,468.93 L475.23,467.88 L476.32,466.85 L477.42,465.83 L478.52,464.81 L479.64,463.81 L480.77,462.81 L481.90,461.83 L483.05,460.86 L484.20,459.90 L485.36,458.95 L486.53,458.01 L487.71,457.08 L488.89,456.15 L490.08,455.23 L491.27,454.32 L492.47,453.41 L493.67,452.51 L494.87,451.62 L496.08,450.73 L497.29,449.84 L498.51,448.96 L499.73,448.09 L500.96,447.22 L502.19,446.36 L503.42,445.51 L504.66,444.67 L505.91,443.83 L507.16,443.00 L508.42,442.18 L509.68,441.37 L510.95,440.57 L512.23,439.79 L513.52,439.01 L514.81,438.25 L516.12,437.51 L517.43,436.77 L518.74,436.06 L520.07,435.36 L521.41,434.67 L522.75,434.00 L524.10,433.35 L525.46,432.72 L526.83,432.10 L528.20,431.50 L529.59,430.92 L530.98,430.35 L532.37,429.80 L533.78,429.27 L535.19,428.76 L536.60,428.26 L538.02,427.78 L539.45,427.30 L540.88,426.84 L542.31,426.39 L543.74,425.95 L545.18,425.50 L546.61,425.07 L548.05,424.63 L549.49,424.20 L550.93,423.77 L552.36,423.33 L553.80,422.90" fill="none" stroke="#000" stroke-width="3.7"/>
<line x1="247.0" y1="65.0" x2="247.0" y2="793.0" stroke="#4d4d4d" stroke-width="3.5" stroke-linecap="square"/>
<line x1="1240.0" y1="65.0" x2="1240.0" y2="793.0" stroke="#444" stroke-width="3.2" stroke-linecap="square"/>
<line x1="247.0" y1="65.0" x2="1240.0" y2="65.0" stroke="#505050" stroke-width="3.2"/>
<line x1="247.0" y1="793.0" x2="1240.0" y2="793.0" stroke="#4d4d4d" stroke-width="3.5"/>
<line x1="247.0" y1="701.9" x2="254.5" y2="701.9" stroke="#666" stroke-width="2.5"/>
<line x1="247.0" y1="610.9" x2="261.0" y2="610.9" stroke="#666" stroke-width="2.5"/>
<line x1="247.0" y1="519.8" x2="254.5" y2="519.8" stroke="#666" stroke-width="2.5"/>
<line x1="247.0" y1="428.7" x2="261.0" y2="428.7" stroke="#666" stroke-width="2.5"/>
<line x1="247.0" y1="337.6" x2="254.5" y2="337.6" stroke="#666" stroke-width="2.5"/>
<line x1="247.0" y1="246.6" x2="261.0" y2="246.6" stroke="#666" stroke-width="2.5"/>
<line x1="247.0" y1="155.5" x2="254.5" y2="155.5" stroke="#666" stroke-width="2.5"/>
<line x1="371.1" y1="793.0" x2="371.1" y2="785.5" stroke="#666" stroke-width="2.5"/>
<line x1="495.2" y1="793.0" x2="495.2" y2="777.5" stroke="#666" stroke-width="2.5"/>
<line x1="619.4" y1="793.0" x2="619.4" y2="785.5" stroke="#666" stroke-width="2.5"/>
<line x1="743.5" y1="793.0" x2="743.5" y2="777.5" stroke="#666" stroke-width="2.5"/>
<line x1="867.6" y1="793.0" x2="867.6" y2="785.5" stroke="#666" stroke-width="2.5"/>
<line x1="991.8" y1="793.0" x2="991.8" y2="777.5" stroke="#666" stroke-width="2.5"/>
<line x1="1115.9" y1="793.0" x2="1115.9" y2="785.5" stroke="#666" stroke-width="2.5"/>
<text x="202.49" y="804.10" font-size="49.5" font-weight="bold" textLength="26.14" lengthAdjust="spacingAndGlyphs" class="e1">0</text>
<text x="176.35" y="622.70" font-size="49.5" font-weight="bold" textLength="52.28" lengthAdjust="spacingAndGlyphs" class="e1">50</text>
<text x="150.21" y="442.90" font-size="49.5" font-weight="bold" textLength="78.42" lengthAdjust="spacingAndGlyphs" class="e1">100</text>
<text x="150.21" y="259.10" font-size="49.5" font-weight="bold" textLength="78.42" lengthAdjust="spacingAndGlyphs" class="e1">150</text>
<text x="150.21" y="78.20" font-size="49.5" font-weight="bold" textLength="78.42" lengthAdjust="spacingAndGlyphs" class="e1">200</text>
<text x="232.76" y="843.80" font-size="49.5" font-weight="bold" textLength="26.14" lengthAdjust="spacingAndGlyphs" class="e1">0</text>
<text x="481.29" y="843.80" font-size="49.5" font-weight="bold" textLength="26.14" lengthAdjust="spacingAndGlyphs" class="e1">3</text>
<text x="729.22" y="843.80" font-size="49.5" font-weight="bold" textLength="26.14" lengthAdjust="spacingAndGlyphs" class="e1">6</text>
<text x="977.54" y="843.80" font-size="49.5" font-weight="bold" textLength="26.14" lengthAdjust="spacingAndGlyphs" class="e1">9</text>
<text x="1213.32" y="843.80" font-size="49.5" font-weight="bold" textLength="52.28" lengthAdjust="spacingAndGlyphs" class="e1">12</text>
<text x="608.44" y="930.40" font-size="54" font-weight="bold" textLength="268.73" lengthAdjust="spacingAndGlyphs" class="e1">Strain (%)</text>
<text transform="translate(85.50,0) rotate(-90)" x="-621.24" y="0" font-size="57.5" font-weight="bold" textLength="345.89" lengthAdjust="spacingAndGlyphs" class="e1">Stress (MPa)</text>
<text x="284.37" y="162.80" font-size="82" font-weight="normal" textLength="22.73" lengthAdjust="spacingAndGlyphs" class="e3">(</text>
<text x="311.02" y="162.80" font-size="82" font-weight="normal" textLength="40.38" lengthAdjust="spacingAndGlyphs" class="e3">a</text>
<text x="361.60" y="162.80" font-size="82" font-weight="normal" textLength="22.73" lengthAdjust="spacingAndGlyphs" class="e3">)</text>
<rect x="351.4" y="1587.5" width="39.4" height="214.0" fill="#000"/>
<rect x="599.5" y="1406.8" width="39.4" height="394.7" fill="#000"/>
<rect x="847.5" y="1353.0" width="40.1" height="448.5" fill="#000"/>
<rect x="1096.5" y="1327.1" width="39.0" height="474.4" fill="#000"/>
<line x1="369.4" y1="1576.0" x2="369.4" y2="1587.5" stroke="#6a6a6a" stroke-width="2.8"/>
<line x1="364.6" y1="1576.0" x2="377.9" y2="1576.0" stroke="#666" stroke-width="2.8"/>
<line x1="619.6" y1="1384.8" x2="619.6" y2="1406.8" stroke="#6a6a6a" stroke-width="2.8"/>
<line x1="613.1" y1="1384.8" x2="626.8" y2="1384.8" stroke="#666" stroke-width="2.8"/>
<line x1="868.6" y1="1342.0" x2="868.6" y2="1353.0" stroke="#6a6a6a" stroke-width="2.8"/>
<line x1="858.1" y1="1342.0" x2="874.3" y2="1342.0" stroke="#666" stroke-width="2.8"/>
<line x1="1117.6" y1="1311.5" x2="1117.6" y2="1327.1" stroke="#6a6a6a" stroke-width="2.8"/>
<line x1="1107.6" y1="1311.5" x2="1121.9" y2="1311.5" stroke="#666" stroke-width="2.8"/>
<line x1="247.0" y1="1072.9" x2="247.0" y2="1801.5" stroke="#505050" stroke-width="3.5" stroke-linecap="square"/>
<line x1="1240.0" y1="1072.9" x2="1240.0" y2="1801.5" stroke="#444" stroke-width="3.2" stroke-linecap="square"/>
<line x1="247.0" y1="1072.9" x2="1240.0" y2="1072.9" stroke="#888" stroke-width="3.5"/>
<line x1="247.0" y1="1801.5" x2="1240.0" y2="1801.5" stroke="#505050" stroke-width="3.5"/>
<line x1="247.0" y1="1740.2" x2="254.5" y2="1740.2" stroke="#666" stroke-width="2.5"/>
<line x1="1240.0" y1="1740.2" x2="1232.5" y2="1740.2" stroke="#666" stroke-width="2.5"/>
<line x1="247.0" y1="1679.8" x2="261.0" y2="1679.8" stroke="#666" stroke-width="2.5"/>
<line x1="1240.0" y1="1679.8" x2="1226.0" y2="1679.8" stroke="#666" stroke-width="2.5"/>
<line x1="247.0" y1="1619.5" x2="254.5" y2="1619.5" stroke="#666" stroke-width="2.5"/>
<line x1="1240.0" y1="1619.5" x2="1232.5" y2="1619.5" stroke="#666" stroke-width="2.5"/>
<line x1="247.0" y1="1559.1" x2="261.0" y2="1559.1" stroke="#666" stroke-width="2.5"/>
<line x1="1240.0" y1="1559.1" x2="1226.0" y2="1559.1" stroke="#666" stroke-width="2.5"/>
<line x1="247.0" y1="1498.8" x2="254.5" y2="1498.8" stroke="#666" stroke-width="2.5"/>
<line x1="1240.0" y1="1498.8" x2="1232.5" y2="1498.8" stroke="#666" stroke-width="2.5"/>
<line x1="247.0" y1="1438.4" x2="261.0" y2="1438.4" stroke="#666" stroke-width="2.5"/>
<line x1="1240.0" y1="1438.4" x2="1226.0" y2="1438.4" stroke="#666" stroke-width="2.5"/>
<line x1="247.0" y1="1378.0" x2="254.5" y2="1378.0" stroke="#666" stroke-width="2.5"/>
<line x1="1240.0" y1="1378.0" x2="1232.5" y2="1378.0" stroke="#666" stroke-width="2.5"/>
<line x1="247.0" y1="1317.7" x2="261.0" y2="1317.7" stroke="#666" stroke-width="2.5"/>
<line x1="1240.0" y1="1317.7" x2="1226.0" y2="1317.7" stroke="#666" stroke-width="2.5"/>
<line x1="247.0" y1="1257.3" x2="254.5" y2="1257.3" stroke="#666" stroke-width="2.5"/>
<line x1="1240.0" y1="1257.3" x2="1232.5" y2="1257.3" stroke="#666" stroke-width="2.5"/>
<line x1="247.0" y1="1197.0" x2="261.0" y2="1197.0" stroke="#666" stroke-width="2.5"/>
<line x1="1240.0" y1="1197.0" x2="1226.0" y2="1197.0" stroke="#666" stroke-width="2.5"/>
<line x1="247.0" y1="1136.7" x2="254.5" y2="1136.7" stroke="#666" stroke-width="2.5"/>
<line x1="1240.0" y1="1136.7" x2="1232.5" y2="1136.7" stroke="#666" stroke-width="2.5"/>
<line x1="369.3" y1="1072.9" x2="369.3" y2="1088.4" stroke="#666" stroke-width="2.8"/>
<line x1="618.8" y1="1072.9" x2="618.8" y2="1088.4" stroke="#666" stroke-width="2.8"/>
<line x1="868.3" y1="1072.9" x2="868.3" y2="1088.4" stroke="#666" stroke-width="2.8"/>
<line x1="1117.7" y1="1072.9" x2="1117.7" y2="1088.4" stroke="#666" stroke-width="2.8"/>
<text x="202.49" y="1814.20" font-size="49.5" font-weight="bold" textLength="26.14" lengthAdjust="spacingAndGlyphs" class="e1">0</text>
<text x="202.44" y="1694.30" font-size="49.5" font-weight="bold" textLength="26.14" lengthAdjust="spacingAndGlyphs" class="e1">2</text>
<text x="200.81" y="1574.20" font-size="49.5" font-weight="bold" textLength="26.14" lengthAdjust="spacingAndGlyphs" class="e1">4</text>
<text x="202.26" y="1450.10" font-size="49.5" font-weight="bold" textLength="26.14" lengthAdjust="spacingAndGlyphs" class="e1">6</text>
<text x="202.01" y="1329.50" font-size="49.5" font-weight="bold" textLength="26.14" lengthAdjust="spacingAndGlyphs" class="e1">8</text>
<text x="176.35" y="1208.20" font-size="49.5" font-weight="bold" textLength="52.28" lengthAdjust="spacingAndGlyphs" class="e1">10</text>
<text x="176.30" y="1088.10" font-size="49.5" font-weight="bold" textLength="52.28" lengthAdjust="spacingAndGlyphs" class="e1">12</text>
<text x="282.88" y="1170.20" font-size="82" font-weight="normal" textLength="22.11" lengthAdjust="spacingAndGlyphs" class="e3">(</text>
<text x="308.75" y="1170.20" font-size="82" font-weight="normal" textLength="46.13" lengthAdjust="spacingAndGlyphs" class="e3">b</text>
<text x="359.49" y="1170.20" font-size="82" font-weight="normal" textLength="23.36" lengthAdjust="spacingAndGlyphs" class="e3">)</text>
<text x="327.58" y="1849.10" font-size="47" font-weight="bold" textLength="84.44" lengthAdjust="spacingAndGlyphs" class="e2">PLA</text>
<text x="582.50" y="1849.10" font-size="47" font-weight="bold" textLength="98.62" lengthAdjust="spacingAndGlyphs" class="e2">PLA/</text>
<text x="442.57" y="1901.50" font-size="47" font-weight="bold" textLength="242.06" lengthAdjust="spacingAndGlyphs" class="e2">PGA fiber30</text>
<text x="825.04" y="1849.10" font-size="47" font-weight="bold" textLength="97.38" lengthAdjust="spacingAndGlyphs" class="e2">PLA/</text>
<text x="742.55" y="1901.50" font-size="47" font-weight="bold" textLength="255.46" lengthAdjust="spacingAndGlyphs" class="e2">PGA fiber30/</text>
<text x="813.68" y="1953.50" font-size="47" font-weight="bold" textLength="107.85" lengthAdjust="spacingAndGlyphs" class="e2">HA10</text>
<text x="1078.71" y="1849.10" font-size="47" font-weight="bold" textLength="98.31" lengthAdjust="spacingAndGlyphs" class="e2">PLA/</text>
<text x="1078.72" y="1901.50" font-size="47" font-weight="bold" textLength="258.30" lengthAdjust="spacingAndGlyphs" class="e2">PGA fiber30/</text>
<text x="1079.66" y="1953.50" font-size="47" font-weight="bold" textLength="57.09" lengthAdjust="spacingAndGlyphs" class="e2">HA</text>
<text x="1143.20" y="1953.50" font-size="47" font-weight="bold" textLength="133.98" lengthAdjust="spacingAndGlyphs" class="e2">-g-PLA</text>
<text x="1283.34" y="1953.50" font-size="47" font-weight="bold" textLength="64.43" lengthAdjust="spacingAndGlyphs" class="e2">(m)</text>
<text x="1350.41" y="1953.50" font-size="47" font-weight="bold" textLength="45.67" lengthAdjust="spacingAndGlyphs" class="e2">10</text>
<text transform="translate(146.20,0) rotate(-90)" x="-1788.97" y="0" font-size="57.5" font-weight="bold" textLength="632.48" lengthAdjust="spacingAndGlyphs" class="e1">Flexural modulus (GPa)</text>
<rect x="351.4" y="2441.7" width="39.4" height="369.1" fill="#c0c0c0"/>
<line x1="352.9" y1="2441.7" x2="352.9" y2="2810.8" stroke="#626262" stroke-width="3"/>
<line x1="389.3" y1="2441.7" x2="389.3" y2="2810.8" stroke="#4a4a4a" stroke-width="3"/>
<line x1="351.4" y1="2441.7" x2="390.8" y2="2441.7" stroke="#3a3a3a" stroke-width="3"/>
<rect x="599.5" y="2294.5" width="39.8" height="516.3" fill="#c0c0c0"/>
<line x1="601.0" y1="2294.5" x2="601.0" y2="2810.8" stroke="#626262" stroke-width="3"/>
<line x1="637.8" y1="2294.5" x2="637.8" y2="2810.8" stroke="#4a4a4a" stroke-width="3"/>
<line x1="599.5" y1="2294.5" x2="639.3" y2="2294.5" stroke="#3a3a3a" stroke-width="3"/>
<rect x="847.8" y="2302.5" width="40.2" height="508.3" fill="#c0c0c0"/>
<line x1="849.3" y1="2302.5" x2="849.3" y2="2810.8" stroke="#626262" stroke-width="3"/>
<line x1="886.5" y1="2302.5" x2="886.5" y2="2810.8" stroke="#4a4a4a" stroke-width="3"/>
<line x1="847.8" y1="2302.5" x2="888.0" y2="2302.5" stroke="#3a3a3a" stroke-width="3"/>
<rect x="1096.5" y="2257.3" width="39.0" height="553.5" fill="#c0c0c0"/>
<line x1="1098.0" y1="2257.3" x2="1098.0" y2="2810.8" stroke="#626262" stroke-width="3"/>
<line x1="1134.0" y1="2257.3" x2="1134.0" y2="2810.8" stroke="#4a4a4a" stroke-width="3"/>
<line x1="1096.5" y1="2257.3" x2="1135.5" y2="2257.3" stroke="#3a3a3a" stroke-width="3"/>
<line x1="369.4" y1="2425.0" x2="369.4" y2="2454.0" stroke="#6a6a6a" stroke-width="2.8"/>
<line x1="362.8" y1="2425.0" x2="377.9" y2="2425.0" stroke="#666" stroke-width="2.8"/>
<line x1="362.8" y1="2454.0" x2="377.9" y2="2454.0" stroke="#666" stroke-width="2.8"/>
<line x1="618.0" y1="2266.0" x2="618.0" y2="2324.0" stroke="#6a6a6a" stroke-width="2.8"/>
<line x1="610.2" y1="2266.0" x2="626.4" y2="2266.0" stroke="#666" stroke-width="2.8"/>
<line x1="609.5" y1="2324.0" x2="627.1" y2="2324.0" stroke="#666" stroke-width="2.8"/>
<line x1="868.5" y1="2287.5" x2="868.5" y2="2316.0" stroke="#6a6a6a" stroke-width="2.8"/>
<line x1="861.1" y1="2287.5" x2="874.0" y2="2287.5" stroke="#666" stroke-width="2.8"/>
<line x1="860.0" y1="2316.0" x2="875.8" y2="2316.0" stroke="#666" stroke-width="2.8"/>
<line x1="1117.6" y1="2234.0" x2="1117.6" y2="2283.3" stroke="#6a6a6a" stroke-width="2.8"/>
<line x1="1109.0" y1="2234.0" x2="1124.5" y2="2234.0" stroke="#666" stroke-width="2.8"/>
<line x1="1108.3" y1="2283.3" x2="1123.0" y2="2283.3" stroke="#666" stroke-width="2.8"/>
<line x1="247.0" y1="2082.0" x2="247.0" y2="2810.8" stroke="#505050" stroke-width="3.5" stroke-linecap="square"/>
<line x1="1240.0" y1="2082.0" x2="1240.0" y2="2810.8" stroke="#444" stroke-width="3.2" stroke-linecap="square"/>
<line x1="247.0" y1="2082.0" x2="1240.0" y2="2082.0" stroke="#4a4a4a" stroke-width="3.5"/>
<line x1="247.0" y1="2810.8" x2="1240.0" y2="2810.8" stroke="#888" stroke-width="4.0"/>
<line x1="247.0" y1="2718.6" x2="254.5" y2="2718.6" stroke="#666" stroke-width="2.5"/>
<line x1="1240.0" y1="2718.6" x2="1232.5" y2="2718.6" stroke="#666" stroke-width="2.5"/>
<line x1="247.0" y1="2627.8" x2="261.0" y2="2627.8" stroke="#666" stroke-width="2.5"/>
<line x1="1240.0" y1="2627.8" x2="1226.0" y2="2627.8" stroke="#666" stroke-width="2.5"/>
<line x1="247.0" y1="2536.9" x2="254.5" y2="2536.9" stroke="#666" stroke-width="2.5"/>
<line x1="1240.0" y1="2536.9" x2="1232.5" y2="2536.9" stroke="#666" stroke-width="2.5"/>
<line x1="247.0" y1="2446.0" x2="261.0" y2="2446.0" stroke="#666" stroke-width="2.5"/>
<line x1="1240.0" y1="2446.0" x2="1226.0" y2="2446.0" stroke="#666" stroke-width="2.5"/>
<line x1="247.0" y1="2355.1" x2="254.5" y2="2355.1" stroke="#666" stroke-width="2.5"/>
<line x1="1240.0" y1="2355.1" x2="1232.5" y2="2355.1" stroke="#666" stroke-width="2.5"/>
<line x1="247.0" y1="2264.2" x2="261.0" y2="2264.2" stroke="#666" stroke-width="2.5"/>
<line x1="1240.0" y1="2264.2" x2="1226.0" y2="2264.2" stroke="#666" stroke-width="2.5"/>
<line x1="247.0" y1="2173.4" x2="254.5" y2="2173.4" stroke="#666" stroke-width="2.5"/>
<line x1="1240.0" y1="2173.4" x2="1232.5" y2="2173.4" stroke="#666" stroke-width="2.5"/>
<line x1="369.3" y1="2082.0" x2="369.3" y2="2097.5" stroke="#666" stroke-width="2.8"/>
<line x1="618.8" y1="2082.0" x2="618.8" y2="2097.5" stroke="#666" stroke-width="2.8"/>
<line x1="868.3" y1="2082.0" x2="868.3" y2="2097.5" stroke="#666" stroke-width="2.8"/>
<line x1="1117.7" y1="2082.0" x2="1117.7" y2="2097.5" stroke="#666" stroke-width="2.8"/>
<text x="202.49" y="2823.10" font-size="49.5" font-weight="bold" textLength="26.14" lengthAdjust="spacingAndGlyphs" class="e1">0</text>
<text x="176.35" y="2642.60" font-size="49.5" font-weight="bold" textLength="52.28" lengthAdjust="spacingAndGlyphs" class="e1">50</text>
<text x="150.21" y="2458.00" font-size="49.5" font-weight="bold" textLength="78.42" lengthAdjust="spacingAndGlyphs" class="e1">100</text>
<text x="150.21" y="2277.30" font-size="49.5" font-weight="bold" textLength="78.42" lengthAdjust="spacingAndGlyphs" class="e1">150</text>
<text x="150.21" y="2096.10" font-size="49.5" font-weight="bold" textLength="78.42" lengthAdjust="spacingAndGlyphs" class="e1">200</text>
<text x="283.75" y="2178.30" font-size="82" font-weight="normal" textLength="23.36" lengthAdjust="spacingAndGlyphs" class="e3">(</text>
<text x="309.53" y="2178.30" font-size="82" font-weight="normal" textLength="41.98" lengthAdjust="spacingAndGlyphs" class="e3">c</text>
<text x="356.28" y="2178.30" font-size="82" font-weight="normal" textLength="24.11" lengthAdjust="spacingAndGlyphs" class="e3">)</text>
<text x="327.58" y="2858.10" font-size="47" font-weight="bold" textLength="84.44" lengthAdjust="spacingAndGlyphs" class="e2">PLA</text>
<text x="582.50" y="2858.10" font-size="47" font-weight="bold" textLength="98.62" lengthAdjust="spacingAndGlyphs" class="e2">PLA/</text>
<text x="442.57" y="2910.50" font-size="47" font-weight="bold" textLength="242.06" lengthAdjust="spacingAndGlyphs" class="e2">PGA fiber30</text>
<text x="825.04" y="2858.10" font-size="47" font-weight="bold" textLength="97.38" lengthAdjust="spacingAndGlyphs" class="e2">PLA/</text>
<text x="742.55" y="2910.50" font-size="47" font-weight="bold" textLength="255.46" lengthAdjust="spacingAndGlyphs" class="e2">PGA fiber30/</text>
<text x="813.68" y="2962.50" font-size="47" font-weight="bold" textLength="107.85" lengthAdjust="spacingAndGlyphs" class="e2">HA10</text>
<text x="1078.71" y="2858.10" font-size="47" font-weight="bold" textLength="98.31" lengthAdjust="spacingAndGlyphs" class="e2">PLA/</text>
<text x="1078.72" y="2910.50" font-size="47" font-weight="bold" textLength="258.30" lengthAdjust="spacingAndGlyphs" class="e2">PGA fiber30/</text>
<text x="1079.66" y="2962.50" font-size="47" font-weight="bold" textLength="57.09" lengthAdjust="spacingAndGlyphs" class="e2">HA</text>
<text x="1143.20" y="2962.50" font-size="47" font-weight="bold" textLength="133.98" lengthAdjust="spacingAndGlyphs" class="e2">-g-PLA</text>
<text x="1283.34" y="2962.50" font-size="47" font-weight="bold" textLength="64.43" lengthAdjust="spacingAndGlyphs" class="e2">(m)</text>
<text x="1350.41" y="2962.50" font-size="47" font-weight="bold" textLength="45.67" lengthAdjust="spacingAndGlyphs" class="e2">10</text>
<text transform="translate(120.60,0) rotate(-90)" x="-2797.31" y="0" font-size="57.5" font-weight="bold" textLength="632.34" lengthAdjust="spacingAndGlyphs" class="e1">Flexural strength (MPa)</text>
</svg>
</body></html>
